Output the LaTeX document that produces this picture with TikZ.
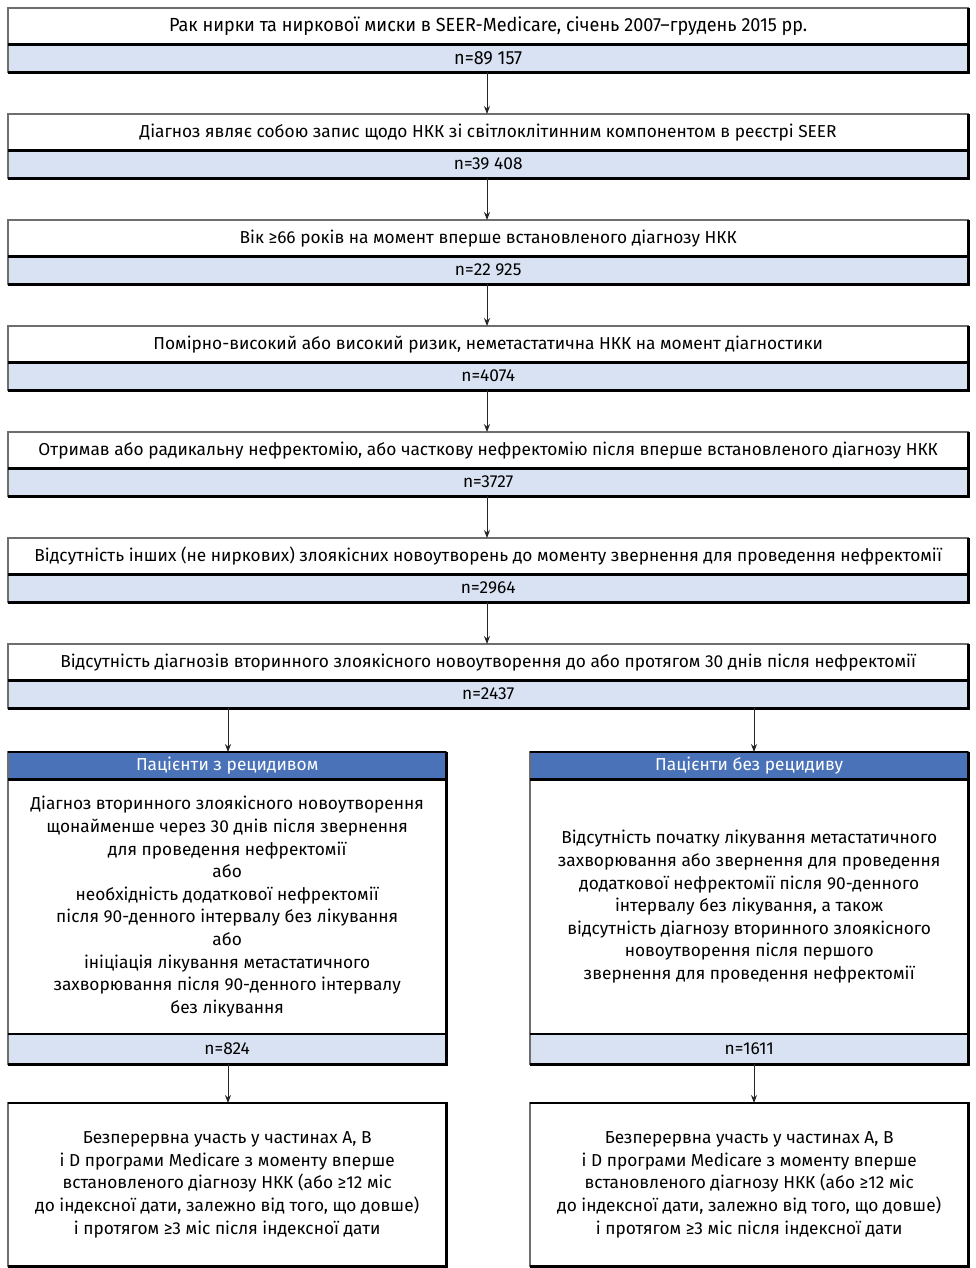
\documentclass[tikz,border=0pt]{standalone}
\usepackage{fontspec}
\setmainfont{Fira Sans}
\newfontfamily\condfont[FakeStretch=0.95]{Fira Sans}
\usetikzlibrary{arrows.meta}
\definecolor{bandblue}{HTML}{D9E2F2}
\definecolor{headblue}{HTML}{4A72B8}
\definecolor{edgegray}{HTML}{6E6E6E}
\newcommand{\rfont}{\fontsize{17.3}{22.6}\selectfont}
\newcommand{\cfont}{\condfont\fontsize{19}{22.6}\selectfont}
\tikzset{
  toptxt/.style={anchor=north west, inner sep=0pt, minimum width=960pt, minimum height=36pt, font=\rfont, fill=white},
  nband/.style={anchor=north west, inner sep=0pt, minimum width=960pt, minimum height=28pt, font=\rfont, fill=bandblue},
  sidehead/.style={anchor=north west, inner sep=0pt, minimum width=438pt, minimum height=27pt, font=\rfont, fill=headblue, text=white},
  sidebody/.style={anchor=north west, inner sep=0pt, minimum width=438pt, minimum height=255pt, font=\rfont, fill=white, align=center},
  sideband/.style={anchor=north west, inner sep=0pt, minimum width=438pt, minimum height=30pt, font=\rfont, fill=bandblue},
  endbox/.style={anchor=north west, inner sep=0pt, minimum width=438pt, minimum height=163pt, font=\rfont, fill=white, align=center},
  arr/.style={-{Stealth[length=8pt,width=6pt]}, line width=0.8pt, draw=black!85},
  thinedge/.style={draw=edgegray, line width=1.3pt},
  thickedge/.style={draw=black, line width=2.6pt},
  divider/.style={draw=black, line width=2.4pt}
}
\begin{document}
\begin{tikzpicture}[x=1pt,y=-1pt]
\useasboundingbox[fill=white] (0,0) rectangle (976,1268);
% rows
\foreach \i/\t/\n/\f in {
  0/{Рак нирки та ниркової миски в SEER-Medicare, січень 2007–грудень 2015 рр.}/{n=89 157}/\cfont,
  1/{Діагноз являє собою запис щодо НКК зі світлоклітинним компонентом в реєстрі SEER}/{n=39 408}/\rfont,
  2/{Вік ≥66 років на момент вперше встановленого діагнозу НКК}/{n=22 925}/\rfont,
  3/{Помірно-високий або високий ризик, неметастатична НКК на момент діагностики}/{n=4074}/\rfont,
  4/{Отримав або радикальну нефректомію, або часткову нефректомію після вперше встановленого діагнозу НКК}/{n=3727}/\rfont,
  5/{Відсутність інших (не ниркових) злоякісних новоутворень до моменту звернення для проведення нефректомії}/{n=2964}/\rfont,
  6/{Відсутність діагнозів вторинного злоякісного новоутворення до або протягом 30 днів після нефректомії}/{n=2437}/\rfont}{
  \node[toptxt, font=\f] (t\i) at (8,{8+106*\i}) {\t};
  \node[nband, font=\f] (n\i) at (8,{44+106*\i}) {\n};
  \draw[thinedge] (t\i.north west) rectangle (n\i.south east);
  \draw[thickedge] (t\i.north east) -- (n\i.south east) -- (n\i.south west);
  \draw[divider] (t\i.south west) -- (t\i.south east);
}
\coordinate (mx) at (487,0);
\coordinate (lx) at (228,0);
\coordinate (rx) at (754,0);
\foreach \i [evaluate=\i as \j using int(\i+1)] in {0,...,5}{
  \draw[arr] (n\i.south -| mx) -- (t\j.north -| mx);
}
% left branch
\node[sidehead] (lh) at (8,752) {Пацієнти з рецидивом};
\node[sidebody] (lb) at (8,779) {Діагноз вторинного злоякісного новоутворення\\щонайменше через 30 днів після звернення\\для проведення нефректомії\\або\\необхідність додаткової нефректомії\\після 90-денного інтервалу без лікування\\або\\ініціація лікування метастатичного\\захворювання після 90-денного інтервалу\\без лікування};
\node[sideband] (ln) at (8,1034) {n=824};
\node[endbox] (le) at (8,1103) {Безперервна участь у частинах А, В\\і D програми Medicare з моменту вперше\\встановленого діагнозу НКК (або ≥12 міс\\до індексної дати, залежно від того, що довше)\\і протягом ≥3 міс після індексної дати};
% right branch
\node[sidehead] (rh) at (530,752) {Пацієнти без рецидиву};
\node[sidebody] (rb) at (530,779) {Відсутність початку лікування метастатичного\\захворювання або звернення для проведення\\додаткової нефректомії після 90-денного\\інтервалу без лікування, а також\\відсутність діагнозу вторинного злоякісного\\новоутворення після першого\\звернення для проведення нефректомії};
\node[sideband] (rn) at (530,1034) {n=1611};
\node[endbox] (re) at (530,1103) {Безперервна участь у частинах А, В\\і D програми Medicare з моменту вперше\\встановленого діагнозу НКК (або ≥12 міс\\до індексної дати, залежно від того, що довше)\\і протягом ≥3 міс після індексної дати};
% frames
\foreach \h/\b in {lh/ln, rh/rn}{
  \draw[thinedge] (\h.north west) rectangle (\b.south east);
  \draw[thickedge] (\h.north east) -- (\b.south east) -- (\b.south west);
  \draw[divider] (\h.north west) -- (\h.north east);
  \draw[divider] (\h.south west) -- (\h.south east);
  \draw[divider] (\b.north west) -- (\b.north east);
}
\foreach \e in {le, re}{
  \draw[thinedge] (\e.north west) rectangle (\e.south east);
  \draw[thickedge] (\e.north west) -- (\e.north east) -- (\e.south east) -- (\e.south west);
}
% arrows to branches
\draw[arr] (n6.south -| lx) -- (lh.north -| lx);
\draw[arr] (n6.south -| rx) -- (rh.north -| rx);
\draw[arr] (ln.south -| lx) -- (le.north -| lx);
\draw[arr] (rn.south -| rx) -- (re.north -| rx);
\end{tikzpicture}
\end{document}
